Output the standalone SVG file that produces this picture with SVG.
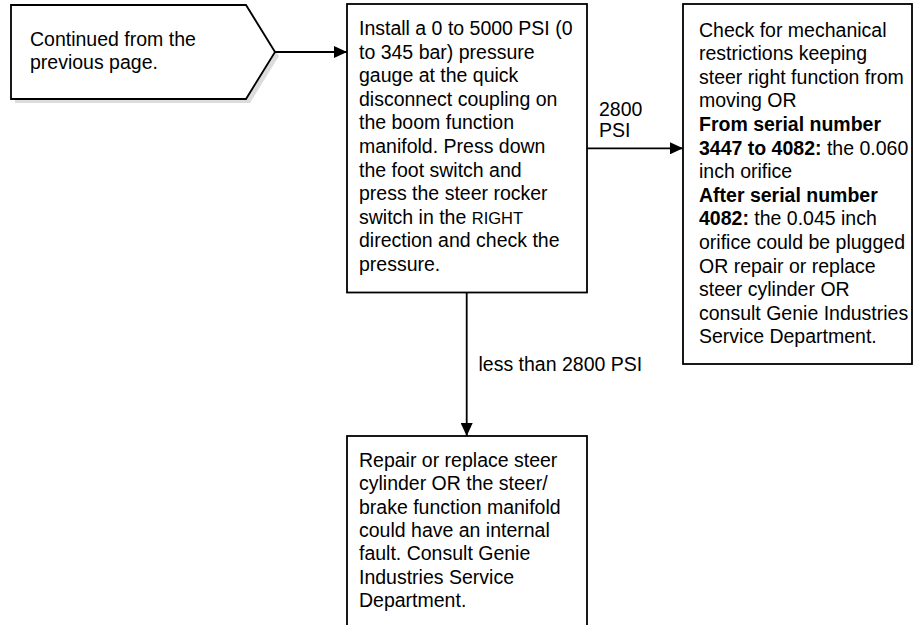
<svg xmlns="http://www.w3.org/2000/svg" width="914" height="625" viewBox="0 0 914 625">
<style>
.box{fill:#fff;stroke:#000;stroke-width:1.8}
.shadow{fill:#dcdcdc;stroke:none}
.t{font-family:"Liberation Sans",Arial,Helvetica,sans-serif;font-size:19.5px;fill:#000}
.b{font-weight:bold}
.sc{font-size:16.5px}
.line{fill:none;stroke:#000;stroke-width:1.8}
</style>
<defs>
<marker id="ah" markerWidth="13" markerHeight="12" refX="13" refY="6" orient="auto" markerUnits="userSpaceOnUse">
<path d="M0,0 L13,6 L0,12 Z" fill="#000"/>
</marker>
</defs>
<g id="start">
<polygon class="shadow" points="15,9 250,9 279,56 250,103 15,103"/>
<polygon class="box" points="11,5 246,5 275,52 246,99 11,99"/>
<text class="t" x="30" y="45.7">Continued from the</text>
<text class="t" x="30" y="69.2">previous page.</text>
</g>
<g id="install">
<rect class="box" x="347" y="4" width="240" height="288.5"/>
<text class="t">
<tspan x="359" y="35">Install a 0 to 5000 PSI (0</tspan>
<tspan x="359" y="58.6">to 345 bar) pressure</tspan>
<tspan x="359" y="82.2">gauge at the quick</tspan>
<tspan x="359" y="105.8">disconnect coupling on</tspan>
<tspan x="359" y="129.4">the boom function</tspan>
<tspan x="359" y="153">manifold. Press down</tspan>
<tspan x="359" y="176.6">the foot switch and</tspan>
<tspan x="359" y="200.2">press the steer rocker</tspan>
<tspan x="359" y="223.8">switch in the <tspan class="sc">RIGHT</tspan></tspan>
<tspan x="359" y="247.4">direction and check the</tspan>
<tspan x="359" y="271">pressure.</tspan>
</text>
</g>
<g id="check">
<rect class="box" x="683" y="4" width="229" height="360"/>
<text class="t">
<tspan x="699" y="36.5">Check for mechanical</tspan>
<tspan x="699" y="60.1">restrictions keeping</tspan>
<tspan x="699" y="83.7">steer right function from</tspan>
<tspan x="699" y="107.3">moving OR</tspan>
<tspan x="699" y="130.9" class="b">From serial number</tspan>
<tspan x="699" y="154.5"><tspan class="b">3447 to 4082:</tspan> the 0.060</tspan>
<tspan x="699" y="178.1">inch orifice</tspan>
<tspan x="699" y="201.7" class="b">After serial number</tspan>
<tspan x="699" y="225.3"><tspan class="b">4082:</tspan> the 0.045 inch</tspan>
<tspan x="699" y="248.9">orifice could be plugged</tspan>
<tspan x="699" y="272.5">OR repair or replace</tspan>
<tspan x="699" y="296.1">steer cylinder OR</tspan>
<tspan x="699" y="319.7">consult Genie Industries</tspan>
<tspan x="699" y="343.3">Service Department.</tspan>
</text>
</g>
<g id="repair">
<rect class="box" x="347" y="436" width="240" height="200"/>
<text class="t">
<tspan x="359" y="466.7">Repair or replace steer</tspan>
<tspan x="359" y="490.1">cylinder OR the steer/</tspan>
<tspan x="359" y="513.5">brake function manifold</tspan>
<tspan x="359" y="536.9">could have an internal</tspan>
<tspan x="359" y="560.3">fault. Consult Genie</tspan>
<tspan x="359" y="583.7">Industries Service</tspan>
<tspan x="359" y="607.1">Department.</tspan>
</text>
</g>
<g id="connectors">
<line class="line" x1="275" y1="52" x2="347" y2="52" marker-end="url(#ah)"/>
<line class="line" x1="587" y1="148.3" x2="683" y2="148.3" marker-end="url(#ah)"/>
<line class="line" x1="466.7" y1="292.5" x2="466.7" y2="436" marker-end="url(#ah)"/>
<text class="t" x="599" y="115.5">2800</text>
<text class="t" x="599" y="137">PSI</text>
<text class="t" x="478.5" y="370.7">less than 2800 PSI</text>
</g>
</svg>
